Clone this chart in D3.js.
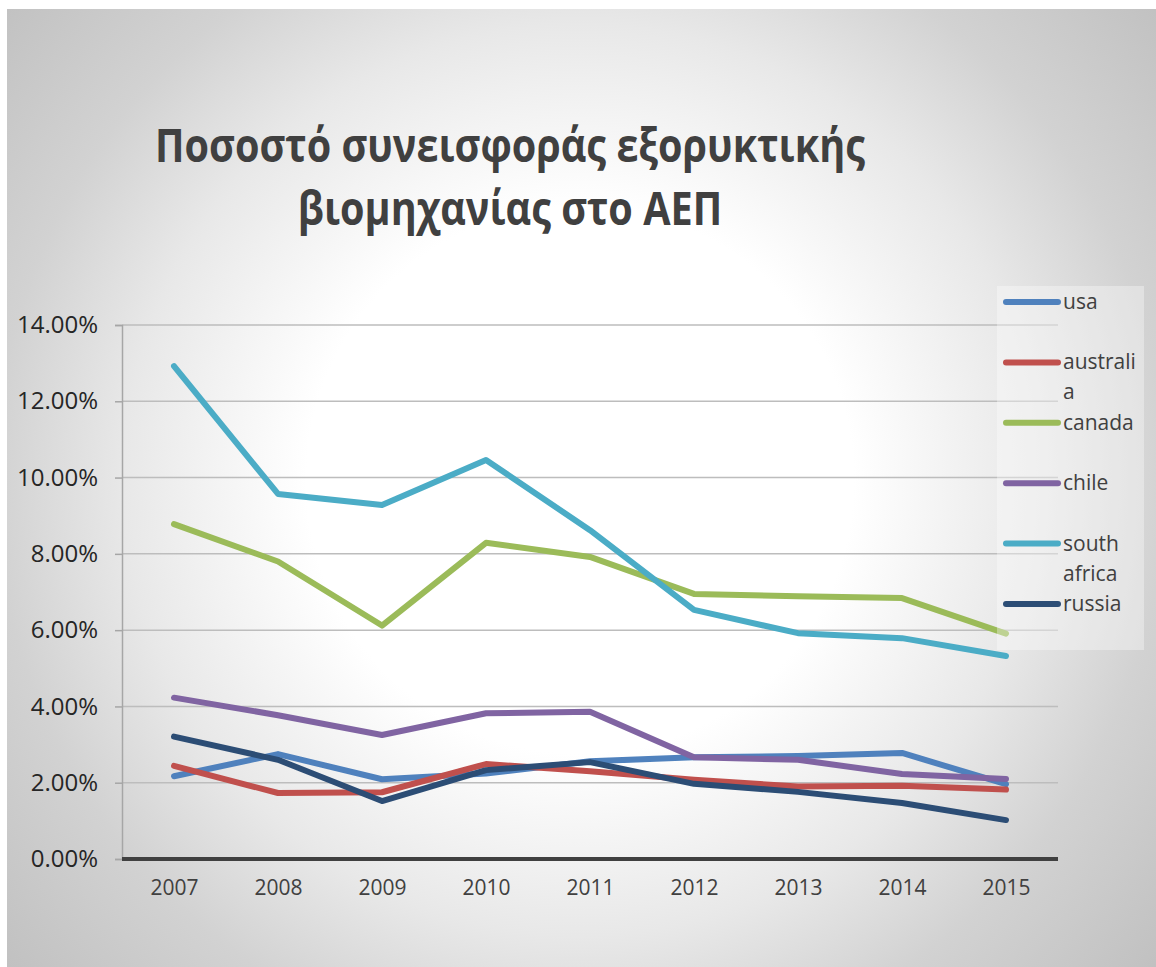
<!DOCTYPE html>
<html>
<head>
<meta charset="utf-8">
<script src="https://cdn.jsdelivr.net/npm/d3@7"></script>
<style>
  html, body { margin: 0; padding: 0; background: #ffffff; }
  svg { display: block; }
  text { font-family: "Open Sans", "DejaVu Sans", sans-serif; }
</style>
</head>
<body>
<svg id="chart" width="1156" height="967"></svg>
<script>
// Mining industry share of GDP, 2007–2015
const years = ["2007", "2008", "2009", "2010", "2011", "2012", "2013", "2014", "2015"];
const seriesNames = ["usa", "australia", "canada", "chile", "south africa", "russia"];
const usa         = [0.0217, 0.0275, 0.0209, 0.0224, 0.0256, 0.0267, 0.0270, 0.0278, 0.0196];
const australia   = [0.0244, 0.0173, 0.0175, 0.0249, 0.0230, 0.0208, 0.0190, 0.0192, 0.0182];
const canada      = [0.0878, 0.0780, 0.0612, 0.0829, 0.0792, 0.0695, 0.0689, 0.0684, 0.0591];
const chile       = [0.0423, 0.0377, 0.0325, 0.0382, 0.0386, 0.0267, 0.0260, 0.0223, 0.0210];
const southAfrica = [0.1292, 0.0957, 0.0928, 0.1046, 0.0862, 0.0653, 0.0592, 0.0579, 0.0532];
const russia      = [0.0321, 0.0260, 0.0152, 0.0233, 0.0254, 0.0197, 0.0176, 0.0147, 0.0102];
const yTicks = [0, 0.02, 0.04, 0.06, 0.08, 0.10, 0.12, 0.14];
const colors = ["#4f81bd", "#c0504d", "#9bbb59", "#8064a2", "#4bacc6", "#2c4d75"];
const titleLines = ["Ποσοστό συνεισφοράς εξορυκτικής", "βιομηχανίας στο ΑΕΠ"];

const series = seriesNames.map((name, i) => ({
  name,
  color: colors[i],
  values: [usa, australia, canada, chile, southAfrica, russia][i]
}));

const svg = d3.select("#chart");

// Soft radial background
const defs = svg.append("defs");
const grad = defs.append("radialGradient")
  .attr("id", "bg")
  .attr("gradientUnits", "userSpaceOnUse")
  .attr("cx", 580).attr("cy", 480).attr("r", 760);
[[0, "#ffffff"], [0.36, "#ffffff"], [0.6, "#e8e8e8"], [0.77, "#d2d2d2"], [1, "#c0c0c0"]]
  .forEach(([o, c]) => grad.append("stop").attr("offset", o).attr("stop-color", c));

svg.append("rect")
  .attr("x", 7).attr("y", 9).attr("width", 1149).attr("height", 958)
  .attr("fill", "url(#bg)");

// Scales
const plot = { left: 122, right: 1058, top: 325, bottom: 859 };
const x = d3.scalePoint().domain(years).range([plot.left, plot.right]).padding(0.5);
const y = d3.scaleLinear().domain([0, 0.14]).range([plot.bottom, plot.top]);

// Horizontal gridlines
svg.append("g")
  .selectAll("line")
  .data(yTicks.filter(d => d > 0))
  .join("line")
  .attr("x1", plot.left).attr("x2", plot.right)
  .attr("y1", d => y(d)).attr("y2", d => y(d))
  .attr("stroke", "#bdbdbd").attr("stroke-width", 1.5);

// Y axis
const yAxis = svg.append("g")
  .attr("transform", `translate(${plot.left},0)`)
  .call(d3.axisLeft(y).tickValues(yTicks).tickFormat(d3.format(".2%")).tickSize(7).tickPadding(17));
yAxis.select(".domain").attr("stroke", "#a6a6a6").attr("stroke-width", 1.5);
yAxis.selectAll(".tick line").attr("stroke", "#a6a6a6").attr("stroke-width", 1.5);
yAxis.selectAll(".tick text")
  .attr("fill", "#262626")
  .style("font-size", "24px")
  .style("font-family", "'Open Sans', sans-serif");

// X axis
const xAxis = svg.append("g")
  .attr("transform", `translate(0,${plot.bottom})`)
  .call(d3.axisBottom(x).tickSize(0).tickPadding(21));
xAxis.select(".domain").remove();
xAxis.selectAll(".tick text")
  .attr("fill", "#404040")
  .style("font-size", "21px")
  .style("font-family", "'Open Sans', sans-serif");
svg.append("line")
  .attr("x1", plot.left).attr("x2", plot.right)
  .attr("y1", plot.bottom).attr("y2", plot.bottom)
  .attr("stroke", "#404040").attr("stroke-width", 4);

// Series lines
const line = d3.line()
  .x((d, i) => x(years[i]))
  .y(d => y(d));

svg.append("g")
  .selectAll("path")
  .data(series)
  .join("path")
  .attr("d", d => line(d.values))
  .attr("fill", "none")
  .attr("stroke", d => d.color)
  .attr("stroke-width", 6)
  .attr("stroke-linejoin", "round")
  .attr("stroke-linecap", "round");

// Legend
const legend = svg.append("g");
legend.append("rect")
  .attr("x", 997).attr("y", 286).attr("width", 147).attr("height", 364)
  .attr("fill", "#ffffff").attr("fill-opacity", 0.35);

const legendLabels = [["usa"], ["australi", "a"], ["canada"], ["chile"], ["south", "africa"], ["russia"]];
const legendY = d3.scalePoint().domain(seriesNames).range([302, 604]);
const item = legend.selectAll("g.item")
  .data(series)
  .join("g")
  .attr("class", "item")
  .attr("transform", d => `translate(0,${legendY(d.name)})`);
item.append("line")
  .attr("x1", 1006).attr("x2", 1058).attr("y1", 0).attr("y2", 0)
  .attr("stroke", d => d.color).attr("stroke-width", 6).attr("stroke-linecap", "round");
item.append("text")
  .attr("x", 1063).attr("y", 7)
  .attr("fill", "#404040")
  .style("font-size", "21px")
  .selectAll("tspan")
  .data((d, i) => legendLabels[i])
  .join("tspan")
  .attr("x", 1063)
  .attr("dy", (d, i) => i === 0 ? 0 : 30)
  .text(d => d);

// Title: two bold lines, narrowed horizontally to the title width
const titleG = svg.append("g").attr("transform", "translate(510,0)");
titleG.selectAll("text")
  .data(titleLines)
  .join("text")
  .attr("text-anchor", "middle")
  .attr("fill", "#404040")
  .style("font-weight", "700")
  .style("font-size", "47px")
  .attr("x", 0)
  .attr("y", (d, i) => i === 0 ? 162 : 225)
  .text(d => d);
const w = titleG.select("text").node().getComputedTextLength();
titleG.attr("transform", `translate(510,0) scale(${(710 / w).toFixed(4)},1)`);
</script>
</body>
</html>
